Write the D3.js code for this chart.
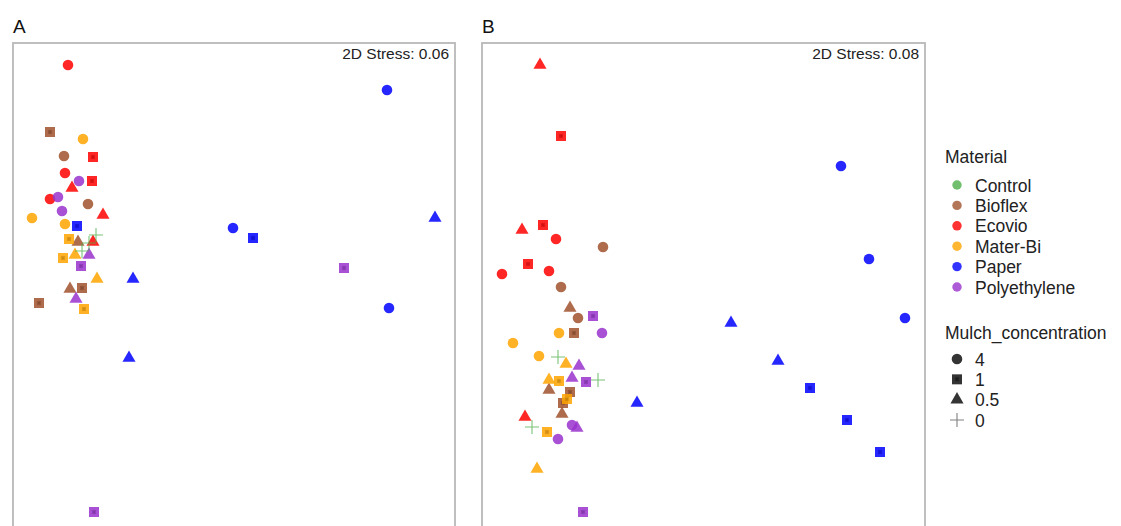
<!DOCTYPE html>
<html>
<head>
<meta charset="utf-8">
<script src="https://cdn.jsdelivr.net/npm/d3@7"></script>
<style>
  html, body { margin: 0; padding: 0; background: #fff; }
  svg { display: block; font-family: "Liberation Sans", Arial, Helvetica, sans-serif; }
</style>
</head>
<body>
<svg id="chart" width="1121" height="526"></svg>
<script>
// NMDS ordinations of soil communities under mulch treatments.
// Each row: [material, mulch concentration, NMDS1, NMDS2]
const materials = ["Control", "Bioflex", "Ecovio", "Mater-Bi", "Paper", "Polyethylene"];
const materialColors = ["#4daf4a", "#a0522d", "#ff0000", "#ffa500", "#0000ff", "#9932cc"];
const concentrations = ["4", "1", "0.5", "0"];

const panelA = [
  ["Bioflex", "1", -0.50, 1.18], ["Bioflex", "4", -0.36, 0.94], ["Bioflex", "4", -0.12, 0.46],
  ["Bioflex", "0.5", -0.22, 0.08], ["Bioflex", "0.5", -0.30, -0.39], ["Bioflex", "1", -0.18, -0.38],
  ["Bioflex", "1", -0.61, -0.53],
  ["Ecovio", "4", -0.32, 1.85], ["Ecovio", "1", -0.07, 0.93], ["Ecovio", "4", -0.35, 0.77],
  ["Ecovio", "1", -0.08, 0.69], ["Ecovio", "0.5", -0.28, 0.62], ["Ecovio", "4", -0.50, 0.51],
  ["Ecovio", "0.5", 0.03, 0.35], ["Ecovio", "0.5", -0.07, 0.08],
  ["Mater-Bi", "4", -0.17, 1.11], ["Mater-Bi", "4", -0.68, 0.32], ["Mater-Bi", "4", -0.35, 0.26],
  ["Mater-Bi", "1", -0.31, 0.11], ["Mater-Bi", "1", -0.37, -0.08], ["Mater-Bi", "0.5", -0.25, -0.05],
  ["Mater-Bi", "0.5", -0.03, -0.29], ["Mater-Bi", "1", -0.16, -0.59],
  ["Paper", "4", 2.87, 1.60], ["Paper", "4", 1.33, 0.22], ["Paper", "4", 2.89, -0.58],
  ["Paper", "1", -0.23, 0.24], ["Paper", "1", 1.53, 0.12], ["Paper", "0.5", 3.35, 0.32],
  ["Paper", "0.5", 0.33, -0.29], ["Paper", "0.5", 0.29, -1.08],
  ["Polyethylene", "4", -0.21, 0.69], ["Polyethylene", "4", -0.42, 0.53], ["Polyethylene", "4", -0.38, 0.39],
  ["Polyethylene", "0.5", -0.11, -0.05], ["Polyethylene", "0.5", -0.24, -0.49], ["Polyethylene", "1", -0.19, -0.16],
  ["Polyethylene", "1", 2.44, -0.18], ["Polyethylene", "1", -0.06, -2.62],
  ["Control", "0", -0.04, 0.15], ["Control", "0", -0.18, -0.01], ["Control", "0", -0.11, 0.07]
];

const panelB = [
  ["Ecovio", "0.5", -0.60, 2.35], ["Ecovio", "1", -0.39, 1.64], ["Ecovio", "0.5", -0.78, 0.70],
  ["Ecovio", "1", -0.57, 0.75], ["Ecovio", "4", -0.44, 0.61], ["Ecovio", "1", -0.72, 0.36],
  ["Ecovio", "4", -0.98, 0.26], ["Ecovio", "4", -0.51, 0.29], ["Ecovio", "0.5", -0.75, -1.17],
  ["Bioflex", "4", 0.03, 0.53], ["Bioflex", "4", -0.39, 0.13], ["Bioflex", "0.5", -0.30, -0.08],
  ["Bioflex", "4", -0.22, -0.18], ["Bioflex", "1", -0.26, -0.33], ["Bioflex", "0.5", -0.51, -0.90],
  ["Bioflex", "1", -0.30, -0.92], ["Bioflex", "1", -0.37, -1.03], ["Bioflex", "0.5", -0.38, -1.14],
  ["Mater-Bi", "4", -0.41, -0.33], ["Mater-Bi", "4", -0.87, -0.43], ["Mater-Bi", "4", -0.61, -0.56],
  ["Mater-Bi", "0.5", -0.34, -0.64], ["Mater-Bi", "0.5", -0.51, -0.80], ["Mater-Bi", "1", -0.41, -0.81],
  ["Mater-Bi", "1", -0.33, -0.99], ["Mater-Bi", "1", -0.53, -1.32], ["Mater-Bi", "0.5", -0.63, -1.69],
  ["Paper", "4", 2.41, 1.34], ["Paper", "4", 2.69, 0.41], ["Paper", "4", 3.05, -0.18],
  ["Paper", "0.5", 1.31, -0.23], ["Paper", "0.5", 1.78, -0.61], ["Paper", "0.5", 0.37, -1.03],
  ["Paper", "1", 2.10, -0.88], ["Paper", "1", 2.47, -1.20], ["Paper", "1", 2.80, -1.52],
  ["Polyethylene", "1", -0.07, -0.16], ["Polyethylene", "4", 0.02, -0.33], ["Polyethylene", "0.5", -0.21, -0.66],
  ["Polyethylene", "0.5", -0.28, -0.78], ["Polyethylene", "1", -0.14, -0.82], ["Polyethylene", "4", -0.28, -1.25],
  ["Polyethylene", "0.5", -0.23, -1.28], ["Polyethylene", "4", -0.42, -1.39], ["Polyethylene", "1", -0.17, -2.12],
  ["Control", "0", -0.42, -0.57], ["Control", "0", -0.02, -0.80], ["Control", "0", -0.68, -1.27]
];

const stressA = "2D Stress: 0.06";
const stressB = "2D Stress: 0.08";

const svg = d3.select("#chart");
const color = d3.scaleOrdinal().domain(materials).range(materialColors);
const ALPHA = 0.85;

// marker drawing keyed by concentration
function drawMarker(g, conc, fill) {
  if (conc === "4") {
    g.append("path").attr("d", d3.symbol().type(d3.symbolCircle).size(88)())
      .attr("fill", fill).attr("fill-opacity", ALPHA);
  } else if (conc === "1") {
    g.append("path").attr("d", d3.symbol().type(d3.symbolSquare).size(100)())
      .attr("fill", fill).attr("fill-opacity", ALPHA);
    const dk = d3.color(fill).darker(1.1).formatHex();
    g.append("path").attr("d", "M-1.6,-1.6L1.6,1.6M-1.6,1.6L1.6,-1.6")
      .attr("stroke", dk).attr("stroke-width", 1.8).attr("stroke-opacity", 0.55);
  } else if (conc === "0.5") {
    g.append("path").attr("d", d3.symbol().type(d3.symbolTriangle).size(74)())
      .attr("fill", fill).attr("fill-opacity", ALPHA);
  } else {
    g.append("path").attr("d", "M-7,0L7,0M0,-7L0,7")
      .attr("stroke", fill).attr("stroke-width", 1.1).attr("stroke-opacity", 0.75).attr("fill", "none");
  }
}

function drawPanel(opts) {
  const { data, left, right, top, bottom, xDom, yDom, label, stress } = opts;
  const x = d3.scaleLinear().domain(xDom).range([left, right]);
  const y = d3.scaleLinear().domain(yDom).range([bottom, top]);
  const g = svg.append("g");

  g.append("text").attr("x", left).attr("y", 33)
    .attr("font-size", 19).attr("fill", "#111").text(label);

  g.append("rect").attr("x", left).attr("y", top)
    .attr("width", right - left).attr("height", bottom - top)
    .attr("fill", "#fff").attr("stroke", "#b8b8b8").attr("stroke-width", 1.8);

  g.append("text").attr("x", right - 6).attr("y", top + 16)
    .attr("text-anchor", "end").attr("font-size", 15.5).attr("fill", "#222").text(stress);

  g.selectAll("g.pt").data(data).join("g")
    .attr("class", "pt")
    .attr("transform", d => `translate(${x(d[2])},${y(d[3])})`)
    .each(function(d) { drawMarker(d3.select(this), d[1], color(d[0])); });
}

drawPanel({ data: panelA, left: 13, right: 455, top: 43, bottom: 545,
  xDom: [-0.87, 3.55], yDom: [-2.95, 2.07], label: "A", stress: stressA });
drawPanel({ data: panelB, left: 482, right: 925, top: 43, bottom: 545,
  xDom: [-1.18, 3.25], yDom: [-2.45, 2.57], label: "B", stress: stressB });

// legends
const leg = svg.append("g").attr("transform", "translate(945,0)");
leg.append("text").attr("x", 0).attr("y", 163).attr("font-size", 17.5).attr("fill", "#222").text("Material");
const matRow = d3.scalePoint().domain(materials).range([185, 287]);
materials.forEach(m => {
  const r = leg.append("g").attr("transform", `translate(12,${matRow(m)})`);
  r.append("path").attr("d", d3.symbol().type(d3.symbolCircle).size(70)())
    .attr("fill", color(m)).attr("fill-opacity", 0.8);
  leg.append("text").attr("x", 30).attr("y", matRow(m) + 6.5)
    .attr("font-size", 17.5).attr("fill", "#222").text(m);
});

leg.append("text").attr("x", 0).attr("y", 339).attr("font-size", 17.5).attr("fill", "#222").text("Mulch_concentration");
const concRow = d3.scalePoint().domain(concentrations).range([359, 420]);
concentrations.forEach(c => {
  const r = leg.append("g").attr("transform", `translate(12,${concRow(c)})`);
  drawMarker(r, c, c === "0" ? "#555" : "#111");
  leg.append("text").attr("x", 30).attr("y", concRow(c) + 6.5)
    .attr("font-size", 17.5).attr("fill", "#222").text(c);
});
</script>
</body>
</html>
